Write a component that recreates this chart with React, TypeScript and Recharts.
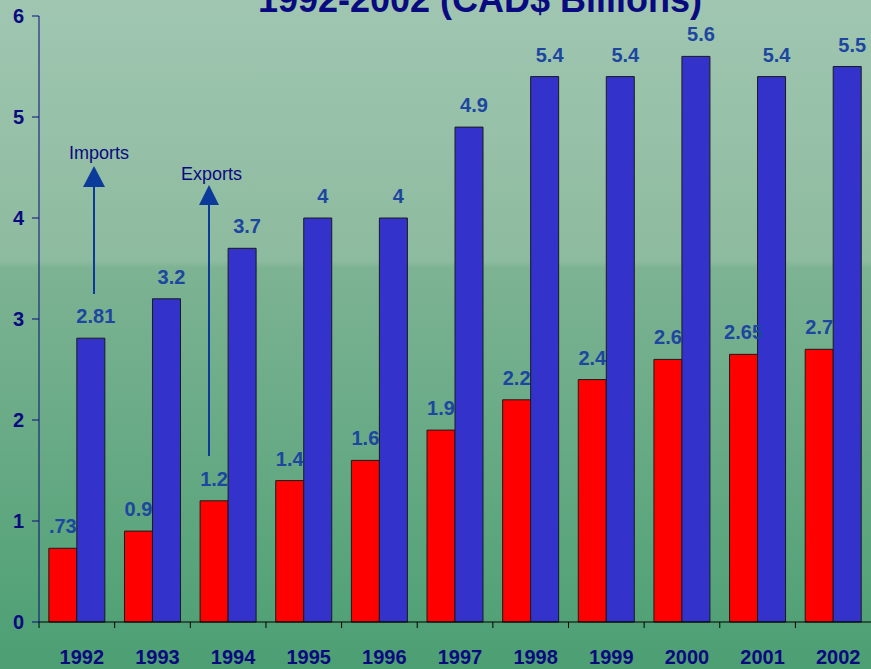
import { BarChart, Bar, XAxis, YAxis, LabelList } from "recharts";

const years = ["1992", "1993", "1994", "1995", "1996", "1997", "1998", "1999", "2000", "2001", "2002"];
const exportsVals = [0.73, 0.9, 1.2, 1.4, 1.6, 1.9, 2.2, 2.4, 2.6, 2.65, 2.7];
const importsVals = [2.81, 3.2, 3.7, 4, 4, 4.9, 5.4, 5.4, 5.6, 5.4, 5.5];
const exportLabels = [".73", "0.9", "1.2", "1.4", "1.6", "1.9", "2.2", "2.4", "2.6", "2.65", "2.7"];
const importLabels = ["2.81", "3.2", "3.7", "4", "4", "4.9", "5.4", "5.4", "5.6", "5.4", "5.5"];
const yTicks = [0, 1, 2, 3, 4, 5, 6];

const data = years.map((y, i) => ({
  year: y,
  exp: exportsVals[i],
  imp: importsVals[i],
  expLabel: exportLabels[i],
  impLabel: importLabels[i],
}));

const FONT = "Arial, 'Liberation Sans', sans-serif";
const NAVY = "#0a0a80";
const LABEL = "#1c46a0";
const HALF_BAND = 831 / years.length / 2;

function makeLabel(shift: number) {
  return (props: any) => {
    const { x, y, width, value } = props;
    return (
      <text
        x={x + width / 2 + shift}
        y={y - 15}
        textAnchor="middle"
        fill={LABEL}
        fontSize={20}
        fontWeight="bold"
        fontFamily={FONT}
      >
        {value}
      </text>
    );
  };
}

// ticks sit between the categories, labels under the bars
function YearTick(props: any) {
  const { x, y, payload } = props;
  return (
    <g>
      <line x1={x - HALF_BAND} y1={y - 28} x2={x - HALF_BAND} y2={y - 22} stroke="#000" />
      <text
        x={x + 5}
        y={y}
        dy="0.71em"
        textAnchor="middle"
        fill={NAVY}
        fontSize={20}
        fontWeight="bold"
        fontFamily={FONT}
      >
        {payload.value}
      </text>
    </g>
  );
}

export default function App() {
  return (
    <div
      style={{
        position: "fixed",
        left: 0,
        top: 0,
        width: 871,
        height: 669,
        overflow: "hidden",
        background: "linear-gradient(to bottom, #a0c6b1 0%, #8dbb9f 39%, #7db393 40%, #4c9f73 100%)",
      }}
    >
      <BarChart
        width={871}
        height={669}
        data={data}
        margin={{ top: 16, right: 0, bottom: 0, left: 0 }}
        barCategoryGap="13%"
        barGap={0}
      >
        <text x={480} y={12} textAnchor="middle" fill={NAVY} fontSize={36} fontWeight="bold" fontFamily={FONT}>
          1992-2002 (CAD$ Billions)
        </text>
        <XAxis
          dataKey="year"
          height={47}
          stroke="#000"
          tickLine={false}
          tickSize={0}
          tickMargin={28}
          interval={0}
          tick={<YearTick />}
        />
        <YAxis
          width={39}
          domain={[0, 6]}
          ticks={yTicks}
          stroke={NAVY}
          tickSize={7}
          tickMargin={8}
          tick={{ fill: NAVY, fontSize: 20, fontWeight: "bold", fontFamily: FONT }}
        />
        <Bar dataKey="exp" fill="#ff0000" stroke="#1a1a1a" strokeWidth={1} isAnimationActive={false}>
          <LabelList dataKey="expLabel" content={makeLabel(0)} />
        </Bar>
        <Bar dataKey="imp" fill="#3333cc" stroke="#1a1a1a" strokeWidth={1} isAnimationActive={false}>
          <LabelList dataKey="impLabel" content={makeLabel(5)} />
        </Bar>
      </BarChart>
      <svg
        width={871}
        height={669}
        style={{ position: "absolute", left: 0, top: 0, pointerEvents: "none" }}
      >
        <line x1={94} y1={294} x2={94} y2={184} stroke="#0b3a9a" strokeWidth={2} />
        <polygon points="94,166 83,187 105,187" fill="#0b3a9a" />
        <text x={69} y={159} fill={NAVY} fontSize={18} fontFamily={FONT}>Imports</text>
        <line x1={209} y1={456} x2={209} y2={202} stroke="#0b3a9a" strokeWidth={2} />
        <polygon points="209,185 199,205 219,205" fill="#0b3a9a" />
        <text x={181} y={180} fill={NAVY} fontSize={18} fontFamily={FONT}>Exports</text>
      </svg>
    </div>
  );
}
